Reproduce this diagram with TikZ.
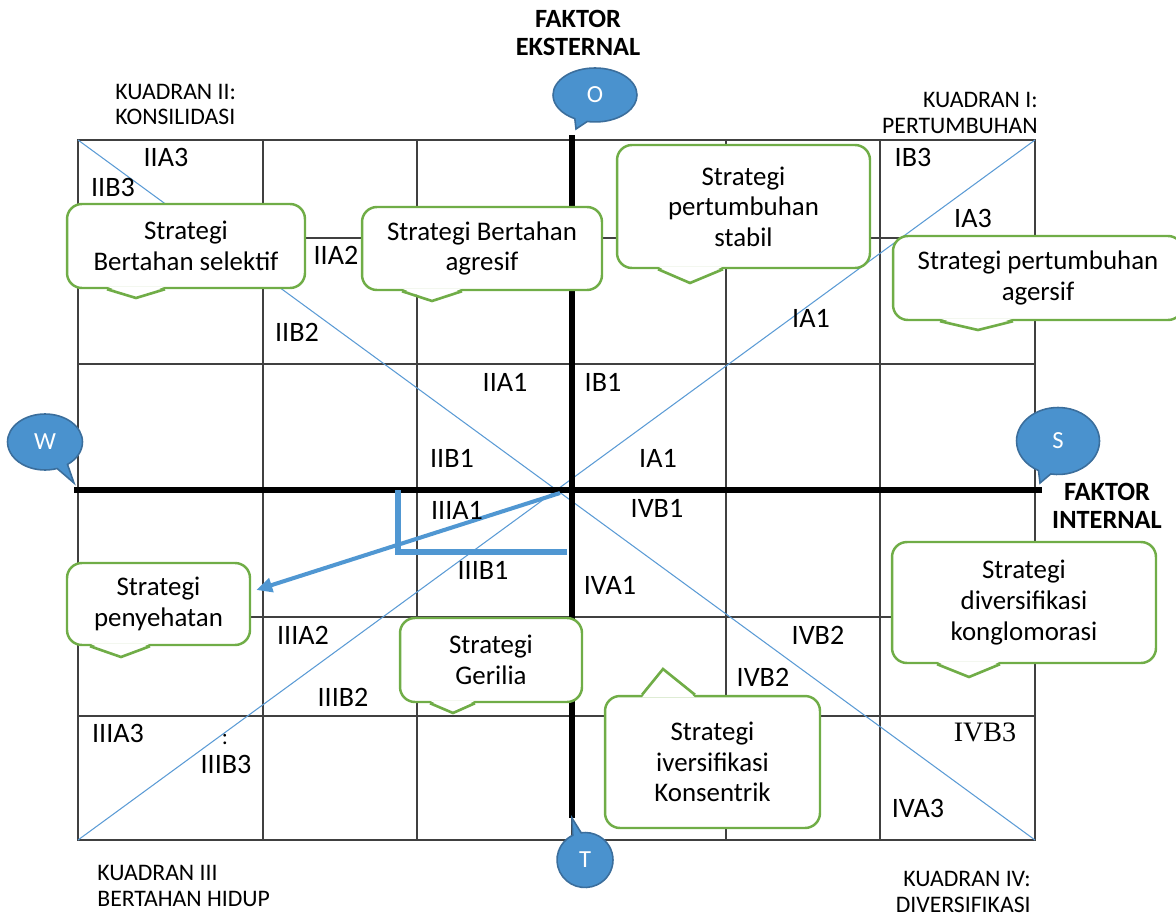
\documentclass[tikz,border=0pt]{standalone}
\usepackage{fontspec}
\setmainfont{Carlito}
\newfontfamily\timesfont{Liberation Serif}
\usetikzlibrary{arrows.meta,shapes.callouts}
\definecolor{gridgrey}{HTML}{404040}
\definecolor{diagblue}{HTML}{5B9BD5}
\definecolor{arrowblue}{HTML}{5097D2}
\definecolor{bubblefill}{HTML}{4A92CE}
\definecolor{bubbleedge}{HTML}{3B6E9C}
\definecolor{stratgreen}{HTML}{70AD47}
\tikzset{
  gridline/.style ={draw=gridgrey, line width=0.8pt},
  axisline/.style ={draw=black, line width=2.9pt},
  diagline/.style ={draw=diagblue, line width=0.6pt},
  cell/.style     ={inner sep=0pt, font=\fontsize{16}{18}\selectfont},
  quad/.style     ={inner sep=0pt, font=\fontsize{13.5}{14.3}\selectfont},
  faktor/.style   ={inner sep=0pt, align=center, font=\fontsize{15}{16}\selectfont\bfseries},
  strat/.style    ={rectangle, rounded corners=8.5pt, draw=stratgreen, fill=white,
                    line width=1.4pt, align=center, inner sep=2pt,
                    font=\fontsize{15.3}{17.4}\selectfont},
  tailline/.style ={draw=stratgreen, line width=1.5pt, line join=miter},
  bubble/.style   ={ellipse callout, draw=bubbleedge, fill=bubblefill, line width=0.9pt,
                    inner sep=0pt, text=white, font=\fontsize{14}{16}\selectfont,
                    callout pointer arc=18},
  move/.style     ={draw=arrowblue, line width=2.9pt, line join=miter},
  moveto/.style   ={draw=arrowblue, line width=2.3pt,
                    -{Triangle[length=3.2mm,width=2.8mm]}},
}
\newcommand{\stratTail}[6]{%
  \path (#1.#2) ++(#3,0) coordinate (#1-tl) (#1.#2) ++(#4,0) coordinate (#1-tr);
  \fill[white] ([yshift=#6]#1-tl) -- (#5) -- ([yshift=#6]#1-tr) -- cycle;
  \draw[tailline] (#1-tl) -- (#5) -- (#1-tr);
}

\begin{document}
\begin{tikzpicture}[x=0.02cm, y=-0.02cm]
\useasboundingbox (0,0) rectangle (1176,916);

% ---------------- grid ----------------
\draw[gridline] (78,140) rectangle (1035,840);
\draw[gridline] (263,140) -- (263,840) (417,140) -- (417,840) (572,140) -- (572,840)
                (726,140) -- (726,840) (880,140) -- (880,840);
\draw[gridline] (78,238) -- (1035,238) (78,364) -- (1035,364)
                (78,617) -- (1035,617) (78,716) -- (1035,716);

% ---------------- diagonals ----------------
\draw[diagline] (78,140) -- (1035,840);
\draw[diagline] (78,840) -- (1035,140);

% ---------------- axes ----------------
\coordinate (axW) at (74,490);
\coordinate (axE) at (1042,490);
\coordinate (axN) at (572,135);
\coordinate (axS) at (572,818);
\draw[axisline] (axW) -- (axE);
\draw[axisline] (axN) -- (axS);

% ---------------- strategies ----------------
\node[strat, minimum width=4.76cm, minimum height=1.68cm] (selektif) at (186,246)
      {Strategi\\Bertahan selektif};
\stratTail{selektif}{south}{-79}{-21}{136,298}{1.5pt}
\node[strat, minimum width=4.80cm, minimum height=1.66cm] (agresif) at (482,248.5)
      {Strategi Bertahan\\agresif};
\stratTail{agresif}{south}{-80}{-20}{432,301}{1.5pt}
\node[strat, minimum width=5.06cm, minimum height=2.46cm] (stabil) at (743.5,206.5)
      {Strategi\\pertumbuhan\\stabil};
\stratTail{stabil}{south}{-85.5}{-20.5}{690,283}{1.5pt}
\node[strat, minimum width=5.80cm, minimum height=1.68cm] (agersif) at (1038,278)
      {Strategi pertumbuhan\\agersif};
\stratTail{agersif}{south}{-98}{-25}{978,330}{1.5pt}
\node[strat, minimum width=3.66cm, minimum height=1.64cm] (peny) at (158.5,604)
      {Strategi\\penyehatan};
\stratTail{peny}{south}{-68.5}{-8.5}{121,657}{1.5pt}
\node[strat, minimum width=3.64cm, minimum height=1.68cm] (gerilia) at (491,660)
      {Strategi\\Gerilia};
\stratTail{gerilia}{south}{-61}{-16}{453,713}{1.5pt}
\node[strat, minimum width=4.30cm, minimum height=2.64cm] (konsen) at (712.5,762)
      {Strategi\\iversifikasi\\Konsentrik};
\stratTail{konsen}{north}{-70.5}{-17.5}{663,669}{-1.5pt}
\node[strat, minimum width=5.28cm, minimum height=2.42cm] (konglo) at (1024,602.5)
      {Strategi\\diversifikasi\\konglomorasi};
\stratTail{konglo}{south}{-87}{-24}{969,677}{1.5pt}

% ---------------- movement ----------------
\coordinate (hub) at (560,493);
\draw[move] (398,490) -- (398,552) -- (567,552);
\draw[moveto] (hub) -- ([shift={(5,-14)}]peny.east);

% ---------------- cell labels ----------------
\node[cell] (iia3)  at (166,157) {IIA3};
\node[cell] (iib3)  at (113,187) {IIB3};
\node[cell] (iia2)  at (336,255) {IIA2};
\node[cell] (iib2)  at (297,332) {IIB2};
\node[cell] (iia1)  at (505,382) {IIA1};
\node[cell] (ib1)   at (603,382) {IB1};
\node[cell] (iib1)  at (452,458) {IIB1};
\node[cell] (ia1)   at (658,458) {IA1};
\node[cell] (ia1b)  at (811,318) {IA1};
\node[cell] (ib3)   at (913,157) {IB3};
\node[cell] (ia3)   at (973,218) {IA3};
\node[cell] (iiia1) at (457,510) {IIIA1};
\node[cell] (ivb1)  at (657,508) {IVB1};
\node[cell] (iiib1) at (483,570) {IIIB1};
\node[cell] (iva1)  at (610,585) {IVA1};
\node[cell] (iiia2) at (303,635) {IIIA2};
\node[cell] (iiib2) at (343,697) {IIIB2};
\node[cell] (iiia3) at (118,733) {IIIA3};
\node[cell, font=\fontsize{13}{14}\selectfont] (colon) at (225,740) {:};
\node[cell] (iiib3) at (226,764) {IIIB3};
\node[cell] (ivb2)  at (818,635) {IVB2};
\node[cell] (ivb2b) at (763,677) {IVB2};
\node[cell, font=\fontsize{16}{18}\timesfont] (ivb3) at (985,732) {IVB3};
\node[cell] (iva3)  at (918,808) {IVA3};

% ---------------- quadrants & factors ----------------
\node[quad, anchor=west, align=left]  (q2) at (115,104.5) {KUADRAN II:\\KONSILIDASI};
\node[quad, anchor=east, align=right] (q1) at (1038,113) {KUADRAN I:\\PERTUMBUHAN};
\node[quad, anchor=west, align=left]  (q3) at (97,886) {KUADRAN III\\BERTAHAN HIDUP};
\node[quad, anchor=east, align=right] (q4) at (1031,892) {KUADRAN IV:\\DIVERSIFIKASI};
\node[faktor] (fe) at (578,33) {FAKTOR\\EKSTERNAL};
\node[faktor] (fi) at (1107,506) {FAKTOR\\INTERNAL};

% ---------------- SWOT bubbles ----------------
\node[bubble, minimum width=1.68cm, minimum height=1.08cm,
      callout absolute pointer={(576,129)}] (O) at (595,95) {O};
\node[bubble, minimum width=1.50cm, minimum height=1.12cm,
      callout absolute pointer={(74,483)}] (W) at (45,442) {W};
\node[bubble, minimum width=1.66cm, minimum height=1.34cm,
      callout absolute pointer={(1040,483)}] (S) at (1058,441) {S};
\node[bubble, minimum width=1.12cm, minimum height=1.10cm,
      callout absolute pointer={(572,818)}] (T) at (585,860) {T};

\end{tikzpicture}
\end{document}
